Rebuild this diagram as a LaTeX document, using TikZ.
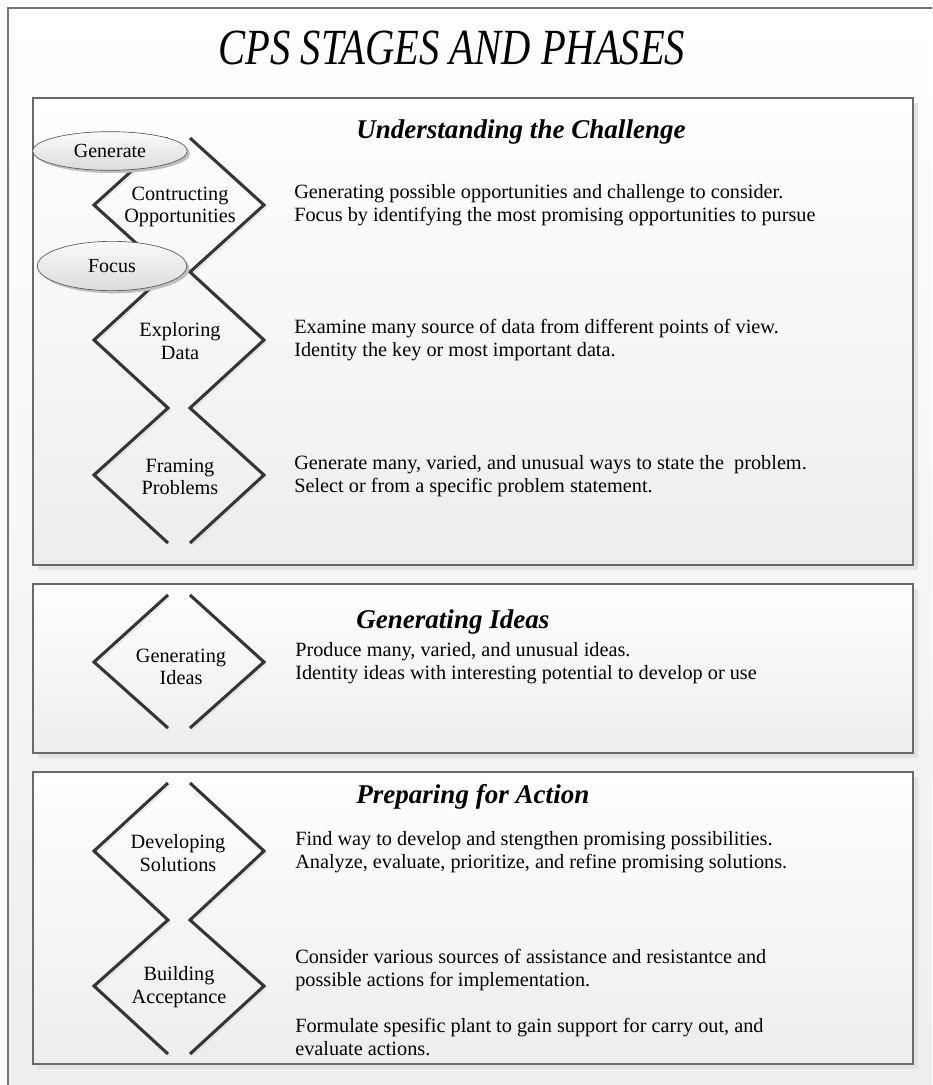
\documentclass[tikz,border=0pt]{standalone}
\usepackage{fontspec}
\setmainfont{Liberation Serif}
\newfontfamily\titlefont[FakeStretch=0.8]{Liberation Serif}
\usepackage{tikz}
\usetikzlibrary{shapes.geometric,shadows}
\definecolor{framegray}{HTML}{6A6A6A}
\definecolor{linegray}{HTML}{353535}
\definecolor{shadowgray}{HTML}{D4D4D4}
\tikzset{
  outer frame/.style={
    draw=black!55,
    line width=1.1pt,
    top color=white,
    bottom color=black!7,
  },
  stage box/.style={
    draw=framegray,
    line width=1.1pt,
    top color=white,
    bottom color=black!7,
    preaction={fill=black!11, transform canvas={xshift=4pt, yshift=-4pt}},
  },
  stage title/.style={
    anchor=west,
    inner sep=0pt,
    font=\fontsize{20.3}{24}\selectfont\bfseries\itshape,
  },
  phase label/.style={
    align=center,
    inner sep=0pt,
    font=\fontsize{15.2}{17}\selectfont,
  },
  task text/.style={
    anchor=west,
    align=left,
    inner sep=0pt,
    font=\fontsize{15.2}{17}\selectfont,
  },
  zigzag/.style={
    line width=2.3pt,
    draw=linegray,
    preaction={draw=shadowgray, transform canvas={xshift=1.6pt, yshift=-1.6pt}},
  },
  mode tag/.style={
    ellipse,
    draw=black!65,
    line width=0.5pt,
    top color=black!2,
    bottom color=black!14,
    inner sep=0pt,
    font=\fontsize{15}{17}\selectfont,
    drop shadow={shadow xshift=2pt, shadow yshift=-2pt, fill=black!25, opacity=1},
  },
}

\begin{document}
\begin{tikzpicture}[x=0.75pt, y=-0.75pt]
  \useasboundingbox (0,0) rectangle (932,1085);
  \clip (0,0) rectangle (932,1085);

  % page frame and title
  \draw[outer frame] (8,8) rectangle (960,1110);
  \node[font=\titlefont\itshape\fontsize{38}{42}\selectfont] (title) at (452,48) {CPS STAGES AND PHASES};

  % stage boxes
  \draw[stage box] (33,98) rectangle (913,565);
  \draw[stage box] (33,584) rectangle (913,753);
  \draw[stage box] (33,772) rectangle (913,1064);

  \node[stage title] (understand) at (356,132) {Understanding the Challenge};
  \node[stage title] (ideas) at (356,622) {Generating Ideas};
  \node[stage title] (action) at (356,797) {Preparing for Action};

  % phase diamonds, left and right halves
  \draw[zigzag] (168,138) -- (94,205) -- (168,272) -- (94,340) -- (168,408) -- (94,475) -- (168,543);
  \draw[zigzag] (190,138) -- (264,205) -- (190,272) -- (264,340) -- (190,408) -- (264,475) -- (190,543);
  \draw[zigzag] (168,595) -- (94,662) -- (168,728);
  \draw[zigzag] (190,595) -- (264,662) -- (190,728);
  \draw[zigzag] (168,783) -- (94,851) -- (168,920) -- (94,986) -- (168,1054);
  \draw[zigzag] (190,783) -- (264,851) -- (190,920) -- (264,986) -- (190,1054);

  \node[phase label] (opps) at (180,207) {Contructing\\Opportunities};
  \node[phase label] (data) at (180,341) {Exploring\\Data};
  \node[phase label] (frame) at (180,477) {Framing\\Problems};
  \node[phase label] (genideas) at (181,667) {Generating\\Ideas};
  \node[phase label] (solutions) at (178,853) {Developing\\Solutions};
  \node[phase label] (accept) at (179,987) {Building\\Acceptance};

  \node[mode tag, minimum width=116pt, minimum height=29pt] (generate) at (110,151) {Generate};
  \node[mode tag, minimum width=112pt, minimum height=37pt] (focus) at (112,266) {Focus};

  % what each phase does
  \node[task text] (oppstext) at (294,205) {Generating possible opportunities and challenge to consider.\\Focus by identifying the most promising opportunities to pursue};
  \node[task text] (datatext) at (294,340) {Examine many source of data from different points of view.\\Identity the key or most important data.};
  \node[task text] (frametext) at (294,476) {Generate many, varied, and unusual ways to state the\ \ problem.\\Select or from a specific problem statement.};
  \node[task text] (ideastext) at (295,663) {Produce many, varied, and unusual ideas.\\Identity ideas with interesting potential to develop or use};
  \node[task text] (soltext) at (295,852) {Find way to develop and stengthen promising possibilities.\\Analyze, evaluate, prioritize, and refine promising solutions.};
  \node[task text] (accepttext) at (295,970) {Consider various sources of assistance and resistantce and\\possible actions for implementation.};
  \node[task text] (plantext) at (295,1037) {Formulate spesific plant to gain support for carry out, and\\evaluate actions.};
\end{tikzpicture}
\end{document}
